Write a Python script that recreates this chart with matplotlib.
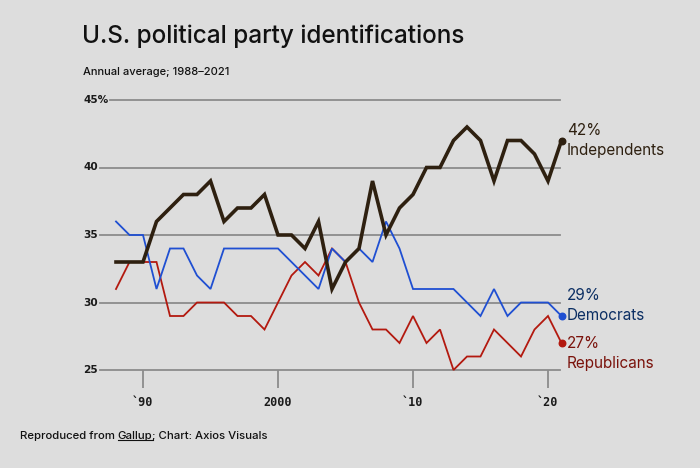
import matplotlib
matplotlib.use("Agg")
import matplotlib.pyplot as plt
import numpy as np

years = list(range(1988, 2022))
independents = [33, 33, 33, 36, 37, 38, 38, 39, 36, 37, 37, 38,
                35, 35, 34, 36, 31, 33, 34, 39, 35, 37,
                38, 40, 40, 42, 43, 42, 39, 42, 42, 41, 39, 42]
democrats = [36, 35, 35, 31, 34, 34, 32, 31, 34, 34, 34, 34,
             34, 33, 32, 31, 34, 33, 34, 33, 36, 34,
             31, 31, 31, 31, 30, 29, 31, 29, 30, 30, 30, 29]
republicans = [31, 33, 33, 33, 29, 29, 30, 30, 30, 29, 29, 28,
               30, 32, 33, 32, 34, 33, 30, 28, 28, 27,
               29, 27, 28, 25, 26, 26, 28, 27, 26, 28, 29, 27]
y_ticks = [25, 30, 35, 40, 45]
y_tick_labels = ["25", "30", "35", "40", "45%"]
x_ticks = [1990, 2000, 2010, 2020]
x_tick_labels = ["`90", "2000", "`10", "`20"]

BG = "#dddddd"
GRID = "#8c8c8c"
IND_C = "#2e2010"
DEM_C = "#1f4fd2"
REP_C = "#b3190f"
IND_T = "#2e2010"
DEM_T = "#0b2e63"
REP_T = "#7a120b"

plt.rcParams['font.family'] = ['Inter', 'DejaVu Sans']

fig = plt.figure(figsize=(7.0, 4.68), dpi=100, facecolor=BG)
W, H = 700, 468
AX_L, AX_W = 100, 460
ax = fig.add_axes([AX_L / W, 1 - 370 / H, AX_W / W, 270 / H])
ax.set_facecolor(BG)

x0 = 1990 - (143 - 100) / 13.5
x1 = 1990 + (560 - 143) / 13.5
ax.set_xlim(x0, x1)
ax.set_ylim(25, 45)

for s in ax.spines.values():
    s.set_visible(False)

ylabels = []
for v, lab in zip(y_ticks, y_tick_labels):
    t = ax.text(-17 / AX_W, v, lab, transform=ax.get_yaxis_transform(), ha='left', va='center',
                fontsize=7.6, color='#1a1a1a', family=['DejaVu Sans'], weight='bold')
    ylabels.append(t)

fig.canvas.draw()
r = fig.canvas.get_renderer()
for v, t in zip(y_ticks, ylabels):
    bb = t.get_window_extent(r)
    start_px = max(AX_L, bb.x1 + 2)
    xmin = (start_px - AX_L) / AX_W
    ax.axhline(v, xmin=xmin, xmax=1, color=GRID, lw=1.3, zorder=1, clip_on=False)

ax.set_yticks([])
ax.set_xticks(x_ticks)
ax.set_xticklabels(x_tick_labels, family=['DejaVu Sans Mono'], fontsize=8.5, color='#1a1a1a',
                   weight='bold')
ax.tick_params(axis='x', length=13, width=1.3, color=GRID, pad=6, direction='out')

ax.plot(years, republicans, color=REP_C, lw=1.3, zorder=3, clip_on=False, solid_joinstyle='miter')
ax.plot(years, democrats, color=DEM_C, lw=1.3, zorder=4, clip_on=False, solid_joinstyle='miter')
ax.plot(years, independents, color=IND_C, lw=2.6, zorder=5, clip_on=False, solid_joinstyle='miter')

ax.scatter([years[-1]], [independents[-1]], s=22, color=IND_C, zorder=6, clip_on=False)
ax.scatter([years[-1]], [democrats[-1]], s=22, color=DEM_C, zorder=6, clip_on=False)
ax.scatter([years[-1]], [republicans[-1]], s=22, color=REP_C, zorder=6, clip_on=False)

fs = 11
ox = 4
ax.annotate(f"{independents[-1]}%", (years[-1], independents[-1]), xytext=(ox, 7.5), textcoords='offset points',
            ha='left', va='center', fontsize=fs, color=IND_T, annotation_clip=False)
ax.annotate("Independents", (years[-1], independents[-1]), xytext=(ox, -7), textcoords='offset points',
            ha='left', va='center', fontsize=fs, color=IND_T, annotation_clip=False)
ax.annotate(f"{democrats[-1]}%", (years[-1], democrats[-1]), xytext=(ox, 14.5), textcoords='offset points',
            ha='left', va='center', fontsize=fs, color=DEM_T, annotation_clip=False)
ax.annotate("Democrats", (years[-1], democrats[-1]), xytext=(ox, 0), textcoords='offset points',
            ha='left', va='center', fontsize=fs, color=DEM_T, annotation_clip=False)
ax.annotate(f"{republicans[-1]}%", (years[-1], republicans[-1]), xytext=(ox, 0), textcoords='offset points',
            ha='left', va='center', fontsize=fs, color=REP_T, annotation_clip=False)
ax.annotate("Republicans", (years[-1], republicans[-1]), xytext=(ox, -14.5), textcoords='offset points',
            ha='left', va='center', fontsize=fs, color=REP_T, annotation_clip=False)

fig.text(82 / W, 1 - 36 / H, "U.S. political party identifications", ha='left', va='center',
         fontsize=17.5, color='#111111', weight='medium')
fig.text(83 / W, 1 - 72 / H, "Annual average; 1988\u20132021", ha='left', va='center',
         fontsize=8, color='#111111', weight='medium')

FS_F = 8.2
t1 = fig.text(20 / W, 1 - 436 / H, "Reproduced from ", ha='left', va='center', fontsize=FS_F,
              color='#111111', weight='medium')
fig.canvas.draw()
bb1 = t1.get_window_extent(r)
t2 = fig.text(bb1.x1 / W, 1 - 436 / H, "Gallup", ha='left', va='center', fontsize=FS_F,
              color='#111111', weight='medium')
fig.canvas.draw()
bb2 = t2.get_window_extent(r)
t3 = fig.text(bb2.x1 / W, 1 - 436 / H, "; Chart: Axios Visuals", ha='left', va='center', fontsize=FS_F,
              color='#111111', weight='medium')
uy = (bb2.y0 + 1) / H
fig.add_artist(matplotlib.lines.Line2D([bb2.x0 / W, bb2.x1 / W], [uy, uy], color='#111111', lw=0.8))

fig.savefig("out.png", dpi=100, facecolor=BG)
